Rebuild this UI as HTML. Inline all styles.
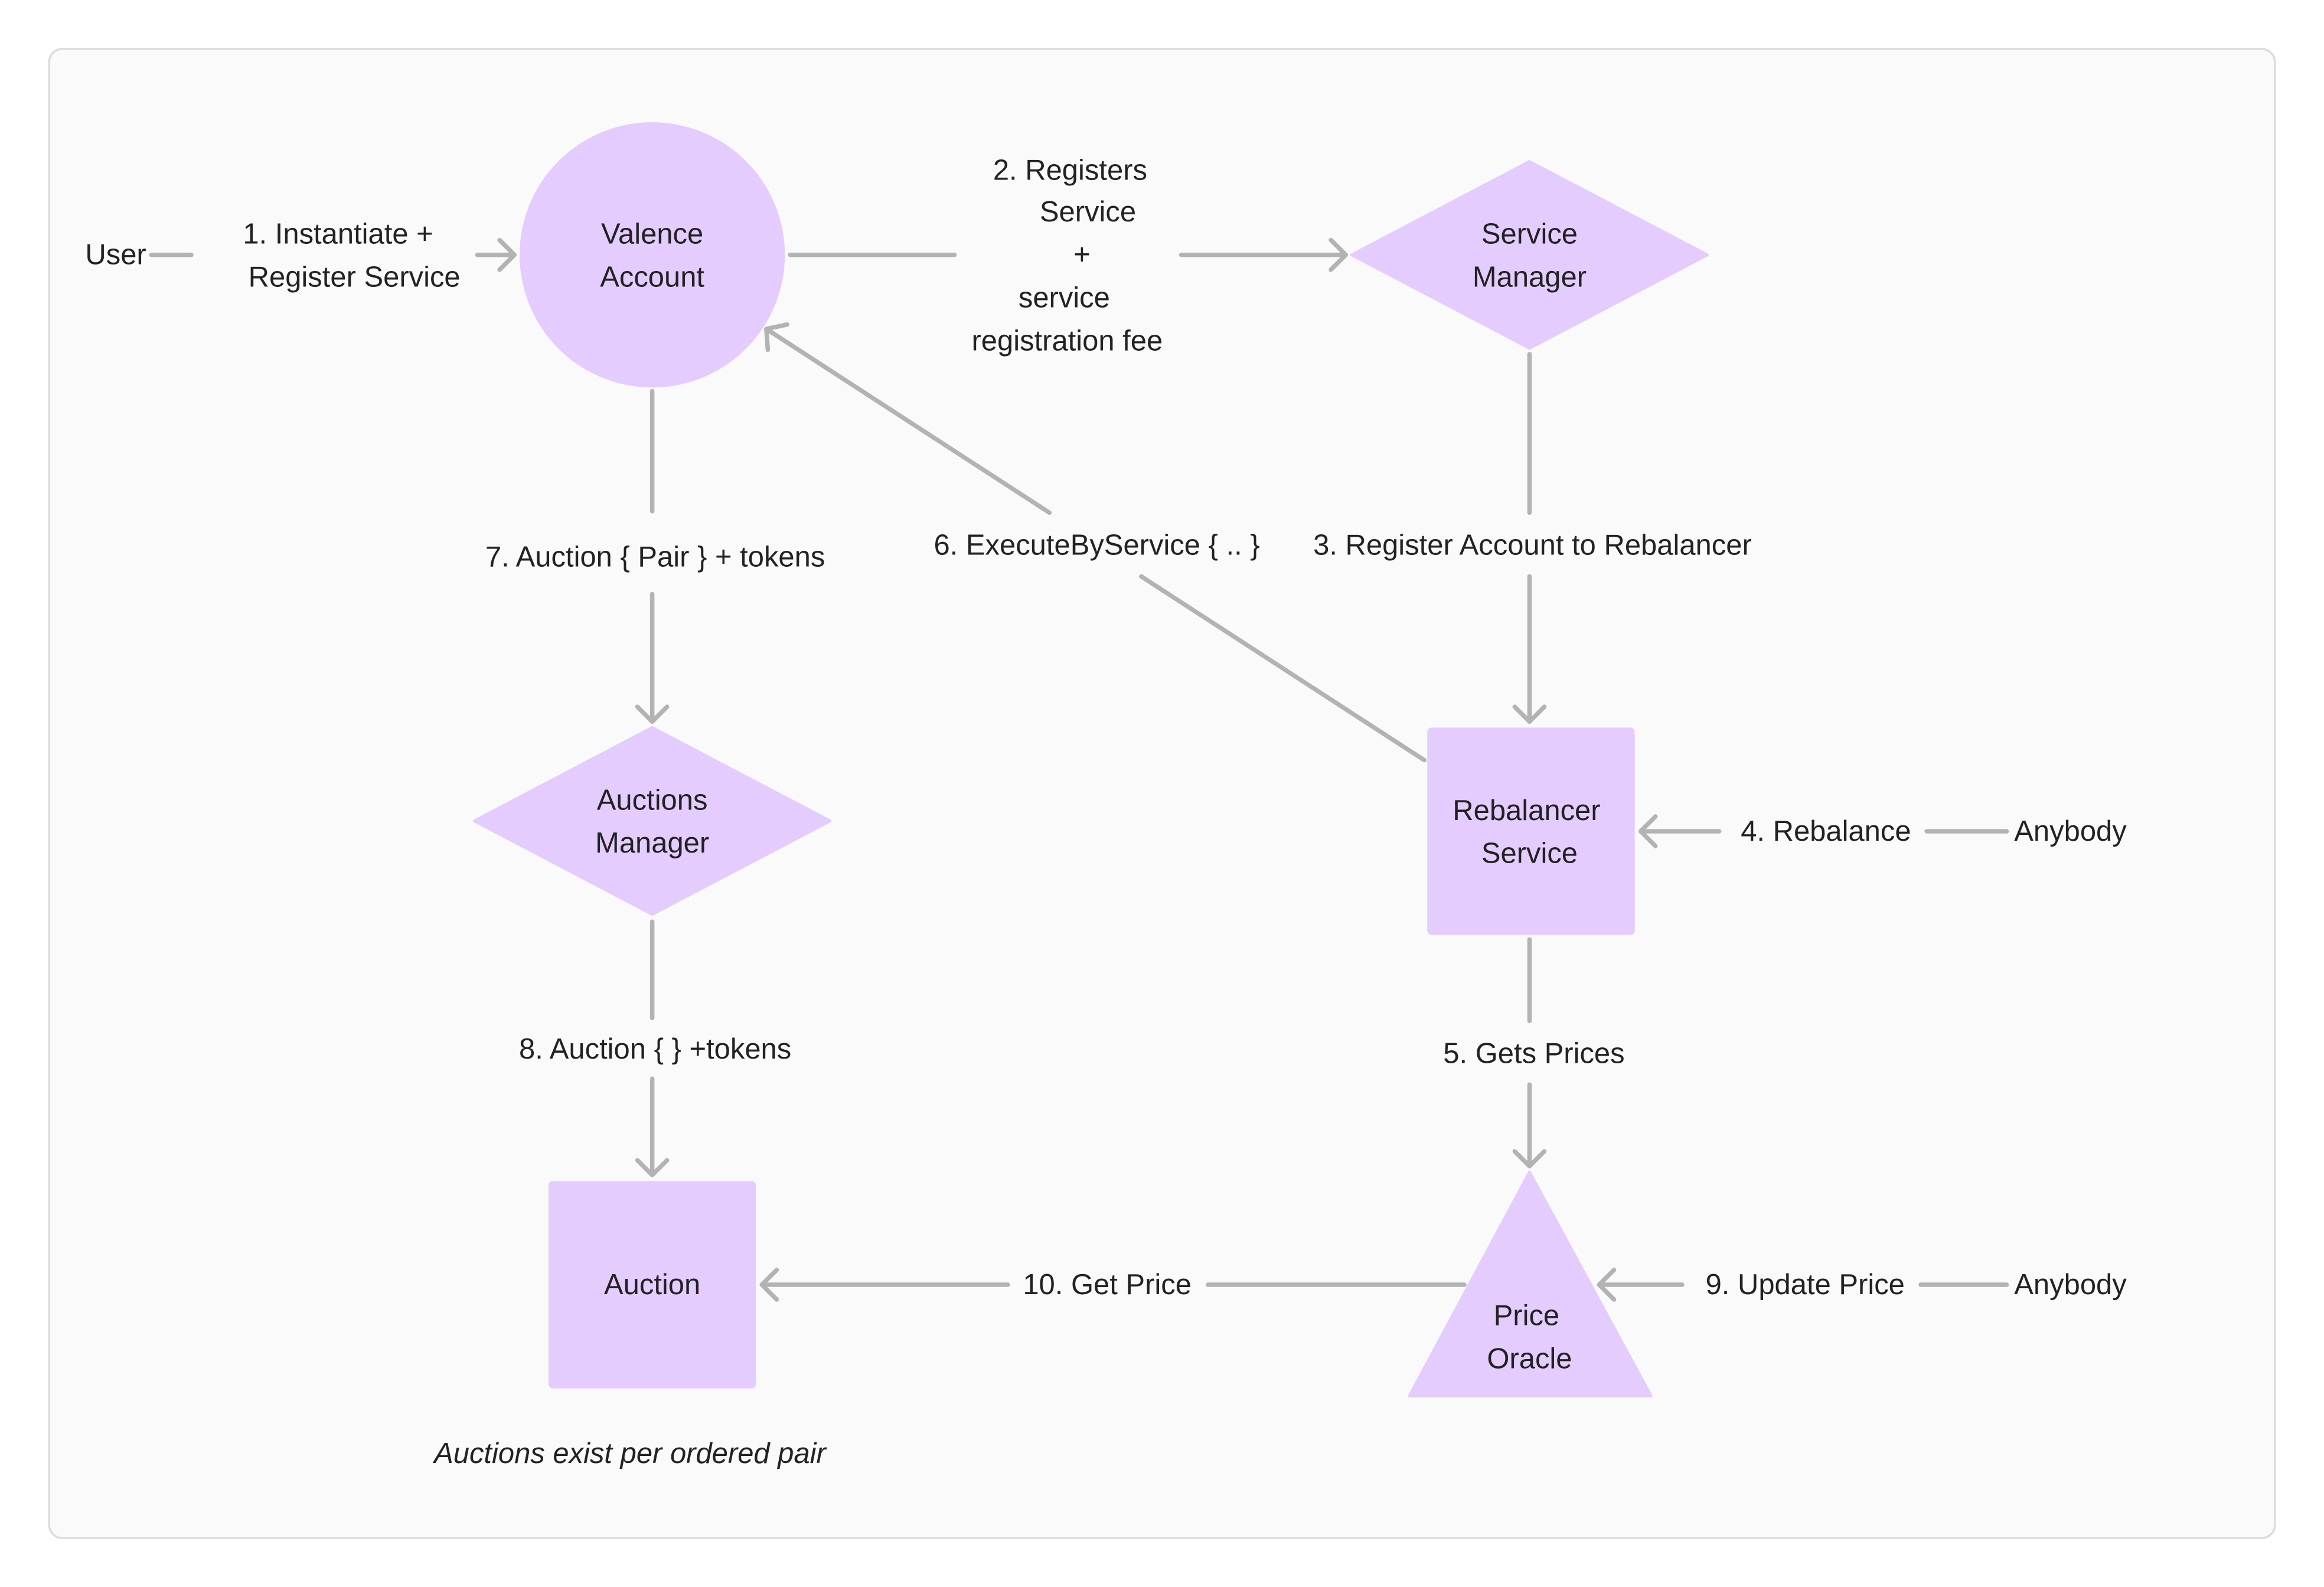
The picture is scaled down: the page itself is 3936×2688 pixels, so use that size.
<!DOCTYPE html>
<html><head><meta charset="utf-8"><style>
html,body{margin:0;padding:0;background:#fff;}
svg{display:block;}
text{font-family:"Liberation Sans",sans-serif;font-size:19.5px;fill:#222;dominant-baseline:central;text-anchor:middle;}
</style></head><body>
<svg width="3936" height="2688" viewBox="0 0 1568 1071" xmlns="http://www.w3.org/2000/svg">
<rect x="0" y="0" width="1568" height="1071" fill="#fff"/>
<rect x="33" y="33" width="1502" height="1005" rx="9" fill="#fafafa" stroke="#dedede" stroke-width="1.5"/>
<g fill="#e4ccff" stroke="#e4ccff" stroke-linejoin="round" stroke-width="2">
<circle cx="440" cy="172" r="88.5"/>
<polygon points="1032,109 1152,172 1032,235 912,172"/>
<polygon points="440,491 560,554 440,617 320,554"/>
<rect x="964" y="492" width="138" height="138" rx="2"/>
<rect x="371" y="798" width="138" height="138" rx="2"/>
<polygon points="1032,791 1114,942 951,942"/>
</g>
<g stroke="#b3b3b3" stroke-width="3" fill="none" stroke-linecap="round" stroke-linejoin="round">
<line x1="102" y1="172" x2="129" y2="172"/>
<line x1="322" y1="172" x2="347" y2="172"/><polyline points="337,162 347,172 337,182"/>
<line x1="533" y1="172" x2="644" y2="172"/>
<line x1="797" y1="172" x2="908" y2="172"/><polyline points="898,162 908,172 898,182"/>
<line x1="440" y1="264" x2="440" y2="345"/>
<line x1="440" y1="401" x2="440" y2="487"/><polyline points="430,477 440,487 450,477"/>
<line x1="961" y1="513" x2="770" y2="389"/>
<line x1="708" y1="346" x2="517" y2="222"/><polyline points="518,236 517,222 531,219"/>
<line x1="1032" y1="239" x2="1032" y2="346"/>
<line x1="1032" y1="389" x2="1032" y2="487"/><polyline points="1022,477 1032,487 1042,477"/>
<line x1="1300" y1="561" x2="1354" y2="561"/>
<line x1="1160" y1="561" x2="1107" y2="561"/><polyline points="1117,551 1107,561 1117,571"/>
<line x1="1032" y1="634" x2="1032" y2="689"/>
<line x1="1032" y1="732" x2="1032" y2="787"/><polyline points="1022,777 1032,787 1042,777"/>
<line x1="440" y1="622" x2="440" y2="687"/>
<line x1="440" y1="728" x2="440" y2="793"/><polyline points="430,783 440,793 450,783"/>
<line x1="988" y1="867" x2="815" y2="867"/>
<line x1="680" y1="867" x2="514" y2="867"/><polyline points="524,857 514,867 524,877"/>
<line x1="1296" y1="867" x2="1354" y2="867"/>
<line x1="1135" y1="867" x2="1079" y2="867"/><polyline points="1089,857 1079,867 1089,877"/>
</g>
<text x="78" y="172">User</text>
<text x="228" y="158">1. Instantiate +</text>
<text x="239" y="187">Register Service</text>
<text x="440" y="158">Valence</text>
<text x="440" y="187">Account</text>
<text x="722" y="115">2. Registers</text>
<text x="734" y="143">Service</text>
<text x="730" y="172">+</text>
<text x="718" y="201">service</text>
<text x="720" y="230">registration fee</text>
<text x="1032" y="158">Service</text>
<text x="1032" y="187">Manager</text>
<text x="442" y="376">7. Auction { Pair } + tokens</text>
<text x="740" y="368">6. ExecuteByService { .. }</text>
<text x="1034" y="368">3. Register Account to Rebalancer</text>
<text x="440" y="540">Auctions</text>
<text x="440" y="569">Manager</text>
<text x="1030" y="547">Rebalancer</text>
<text x="1032" y="576">Service</text>
<text x="1232" y="561">4. Rebalance</text>
<text x="1397" y="561">Anybody</text>
<text x="1035" y="711">5. Gets Prices</text>
<text x="442" y="708">8. Auction { } +tokens</text>
<text x="440" y="867">Auction</text>
<text x="747" y="867">10. Get Price</text>
<text x="1030" y="888">Price</text>
<text x="1032" y="917">Oracle</text>
<text x="1218" y="867">9. Update Price</text>
<text x="1397" y="867">Anybody</text>
<text x="425" y="981" font-style="italic">Auctions exist per ordered pair</text>
</svg>
</body></html>
